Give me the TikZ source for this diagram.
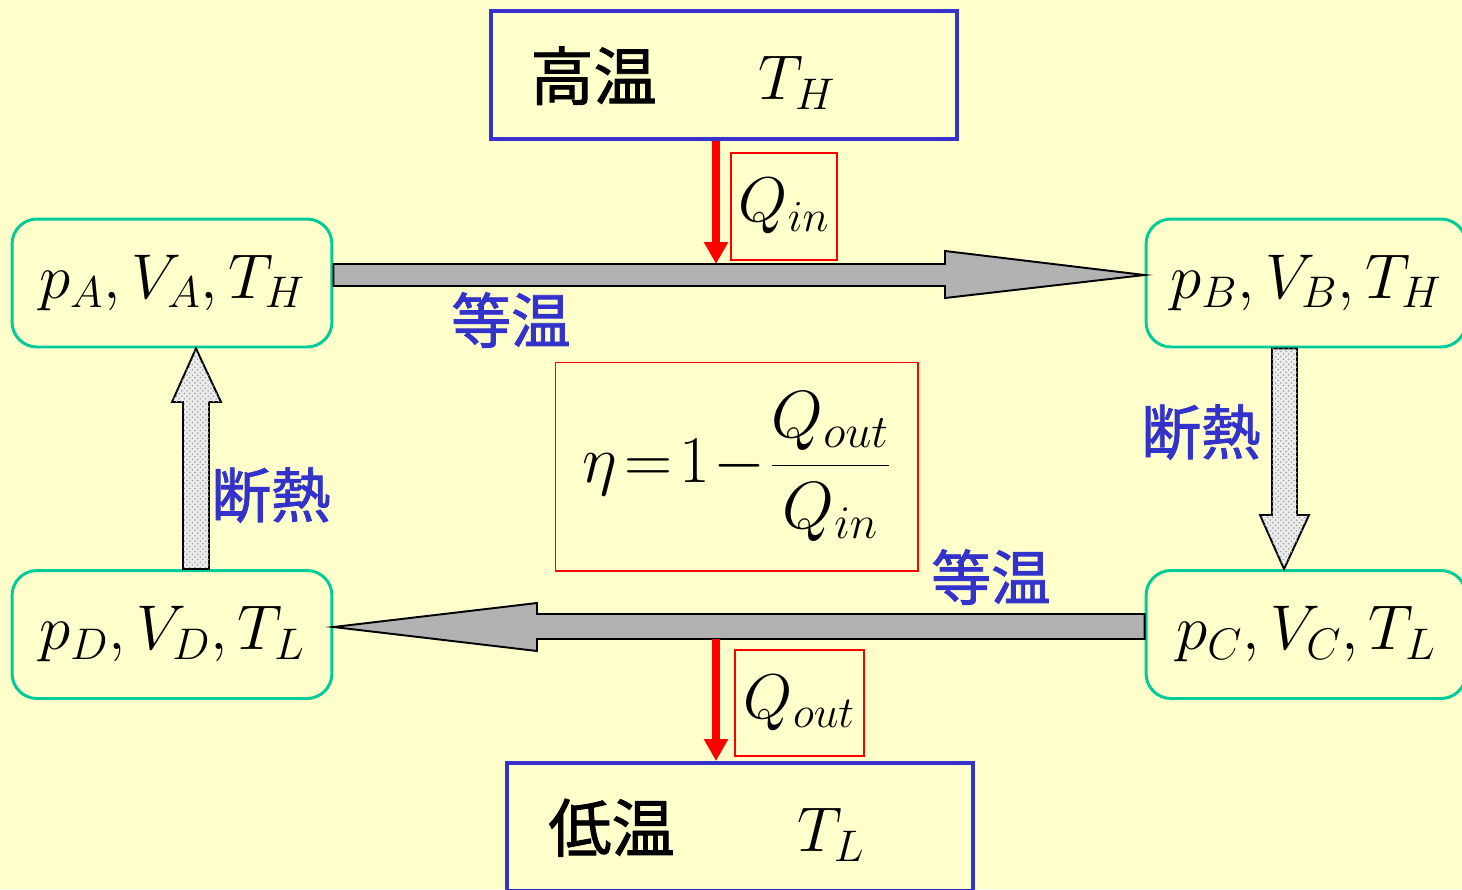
\RequirePackage{fix-cm}
\documentclass[tikz,border=0pt]{standalone}
\usepackage{fontspec}
\newfontfamily\cjk{Noto Sans CJK JP}[FakeBold=1.4]
\usetikzlibrary{arrows.meta,calc,patterns}
\definecolor{bg}{HTML}{FFFFCC}
\definecolor{boxblue}{HTML}{3333CC}
\definecolor{stategreen}{HTML}{00CC99}
\definecolor{labblue}{HTML}{3333CC}
\begin{document}
\begin{tikzpicture}[x=0.02cm,y=-0.02cm,
 state/.style={draw=stategreen, line width=1.7pt, rounded corners=0.5cm, minimum width=6.4cm, minimum height=2.56cm, inner sep=0pt, font=\fontsize{36}{40}\selectfont},
 reservoir/.style={draw=boxblue, line width=2.3pt, minimum width=9.32cm, minimum height=2.56cm, inner sep=0pt},
 reslabel/.style={anchor=west, inner sep=0pt, font=\fontsize{36}{40}\selectfont},
 qbox/.style={draw=red, line width=0.6pt, inner sep=0pt, font=\fontsize{36}{40}\selectfont},
 proc/.style={text=labblue, inner sep=0pt, font=\fontsize{34}{38}\selectfont\cjk},
 isoarrow/.style={draw=black, line width=1.1pt, fill=gray!60, line join=miter},
 adiarrow/.style={draw=black, line width=1.1pt, fill=gray!15, postaction={pattern=crosshatch dots, pattern color=gray!75}},
 heat/.style={draw=red, line width=4.5pt, -{Triangle[length=0.44cm,width=0.46cm]}}
]
\useasboundingbox (0,0) rectangle (1462,889);
\clip (0,0) rectangle (1462,889);
\fill[bg] (0,0) rectangle (1462,889);

% reservoirs
\node[reservoir] (hot) at (724,75) {};
\node[reslabel] (hotlabel) at (530,78) {{\cjk 高温}\hspace{58pt}$T_H$};
\node[reservoir] (cold) at (740,827) {};
\node[reslabel] (coldlabel) at (548,830) {{\cjk 低温}\hspace{70pt}$T_L$};

% states
\node[state] (A) at (172,283) {$p_A,V_A,T_H$};
\node[state] (B) at (1306,283) {$p_B,V_B,T_H$};
\node[state] (D) at (172,634.5) {$p_D,V_D,T_L$};
\node[state] (C) at (1306,634.5) {$p_C,V_C,T_L$};

% isothermal arrows
\coordinate (topedge) at ($(A.east)+(0,-19)$);
\coordinate (botedge) at ($(C.west)+(0,4.5)$);
\draw[isoarrow] (topedge) -- (945,264) -- (945,251) -- ($(B.west)+(0,-8)$)
  -- (945,298) -- (945,286) -- ($(A.east)+(0,3)$) -- cycle;
\draw[isoarrow] ($(C.west)+(0,-20.5)$) -- (537,614) -- (537,603) -- ($(D.east)+(0,-7.5)$)
  -- (537,651) -- (537,639) -- (botedge) -- cycle;

% adiabatic arrows
\draw[adiarrow] ($(D.north)+(11,0)$) -- ($(D.north)+(37,0)$) -- (209,402) -- (221,402)
  -- ($(A.south)+(24,0)$) -- (172,402) -- (183,402) -- cycle;
\draw[adiarrow] ($(B.south)+(-34,0)$) -- ($(B.south)+(-9,0)$) -- (1297,515) -- (1309,515)
  -- ($(C.north)+(-22,0)$) -- (1260,515) -- (1272,515) -- cycle;

% heat flows
\coordinate (qx) at (716,0);
\draw[heat] (hot.south -| qx) -- (topedge -| qx);
\draw[heat] (botedge -| qx) -- (cold.north -| qx);
\node[qbox, minimum width=2.12cm, minimum height=2.14cm] (qin) at (784,206.5) {$Q_{in}$};
\node[qbox, minimum width=2.58cm, minimum height=2.12cm] (qout) at (799.5,703) {$Q_{out}$};

% efficiency
\node[qbox, minimum width=7.26cm, minimum height=4.18cm, font=\fontsize{38}{42}\selectfont] (eta) at (736.5,466.5)
  {$\thickmuskip=2mu\medmuskip=1mu\displaystyle \eta=1-\frac{Q_{out}}{Q_{in}}$};

% process labels
\node[proc] (iso1) at (511,320) {等温};
\node[proc] (adi1) at (1201,432) {断熱};
\node[proc] (adi2) at (271,495) {断熱};
\node[proc] (iso2) at (991,577) {等温};
\end{tikzpicture}
\end{document}
